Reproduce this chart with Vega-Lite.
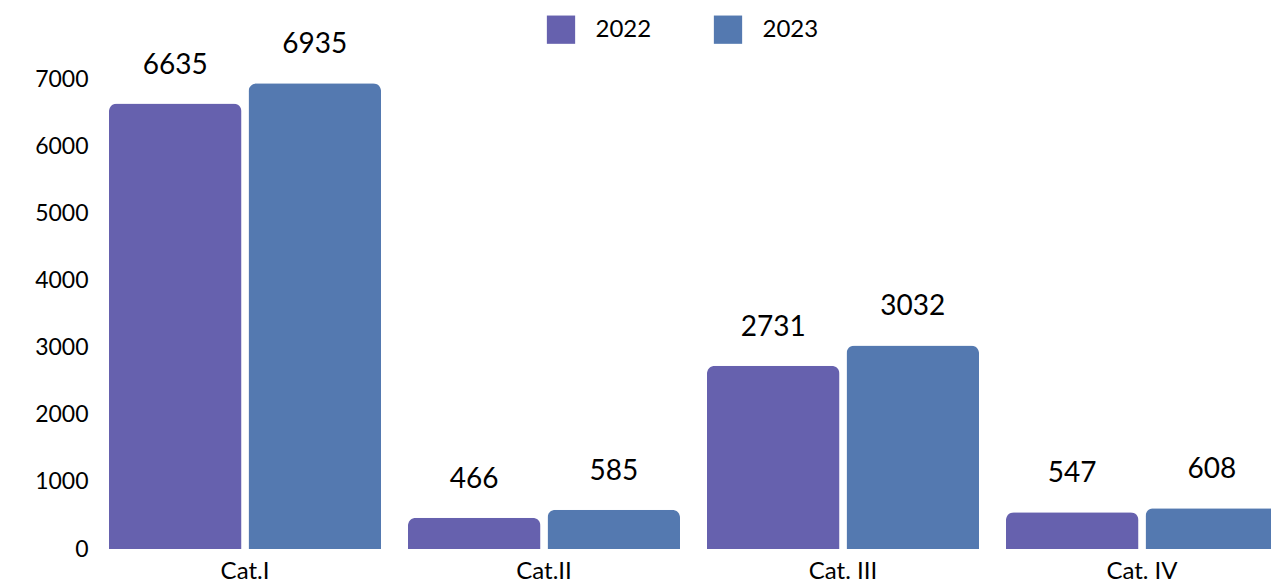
{
  "$schema": "https://vega.github.io/schema/vega-lite/v6.json",
  "width": 1175.5,
  "height": 470,
  "autosize": {"type": "none"},
  "padding": {"left": 95.5, "top": 79, "right": 0, "bottom": 33},
  "background": "white",
  "config": {
    "view": {"stroke": null},
    "font": "Lato",
    "axis": {"grid": false, "domain": false, "ticks": false, "labelColor": "#000000", "title": null}
  },
  "data": {
    "values": [
      {"category": "Cat.I", "year": "2022", "value": 6635},
      {"category": "Cat.I", "year": "2023", "value": 6935},
      {"category": "Cat.II", "year": "2022", "value": 466},
      {"category": "Cat.II", "year": "2023", "value": 585},
      {"category": "Cat. III", "year": "2022", "value": 2731},
      {"category": "Cat. III", "year": "2023", "value": 3032},
      {"category": "Cat. IV", "year": "2022", "value": 547},
      {"category": "Cat. IV", "year": "2023", "value": 608}
    ]
  },
  "encoding": {
    "x": {
      "field": "category",
      "type": "nominal",
      "sort": null,
      "scale": {"range": [0, 1196], "paddingInner": 0.09, "paddingOuter": 0.045},
      "axis": {"labelAngle": 0, "labelFontSize": 24, "labelPadding": 10}
    },
    "xOffset": {"field": "year", "type": "nominal", "scale": {"paddingInner": 0.05}},
    "y": {
      "field": "value",
      "type": "quantitative",
      "scale": {"domain": [0, 7000]},
      "axis": {"values": [0, 1000, 2000, 3000, 4000, 5000, 6000, 7000], "format": "d", "labelFontSize": 23, "labelPadding": 7.5}
    }
  },
  "layer": [
    {
      "mark": {"type": "bar", "cornerRadiusTopLeft": 8, "cornerRadiusTopRight": 8},
      "encoding": {
        "color": {
          "field": "year",
          "type": "nominal",
          "scale": {"domain": ["2022", "2023"], "range": ["#6661AE", "#5479B0"]},
          "legend": {
            "title": null,
            "orient": "none",
            "direction": "horizontal",
            "legendX": 451,
            "legendY": -64,
            "symbolType": "square",
            "symbolSize": 800,
            "symbolStrokeWidth": 0,
            "labelFontSize": 24,
            "labelColor": "#000000",
            "labelOffset": 20,
            "columnPadding": 62
          }
        }
      }
    },
    {
      "mark": {"type": "text", "fontSize": 28, "baseline": "alphabetic", "dy": -30, "color": "#000000"},
      "encoding": {
        "text": {"field": "value", "type": "quantitative", "format": "d"}
      }
    }
  ]
}
